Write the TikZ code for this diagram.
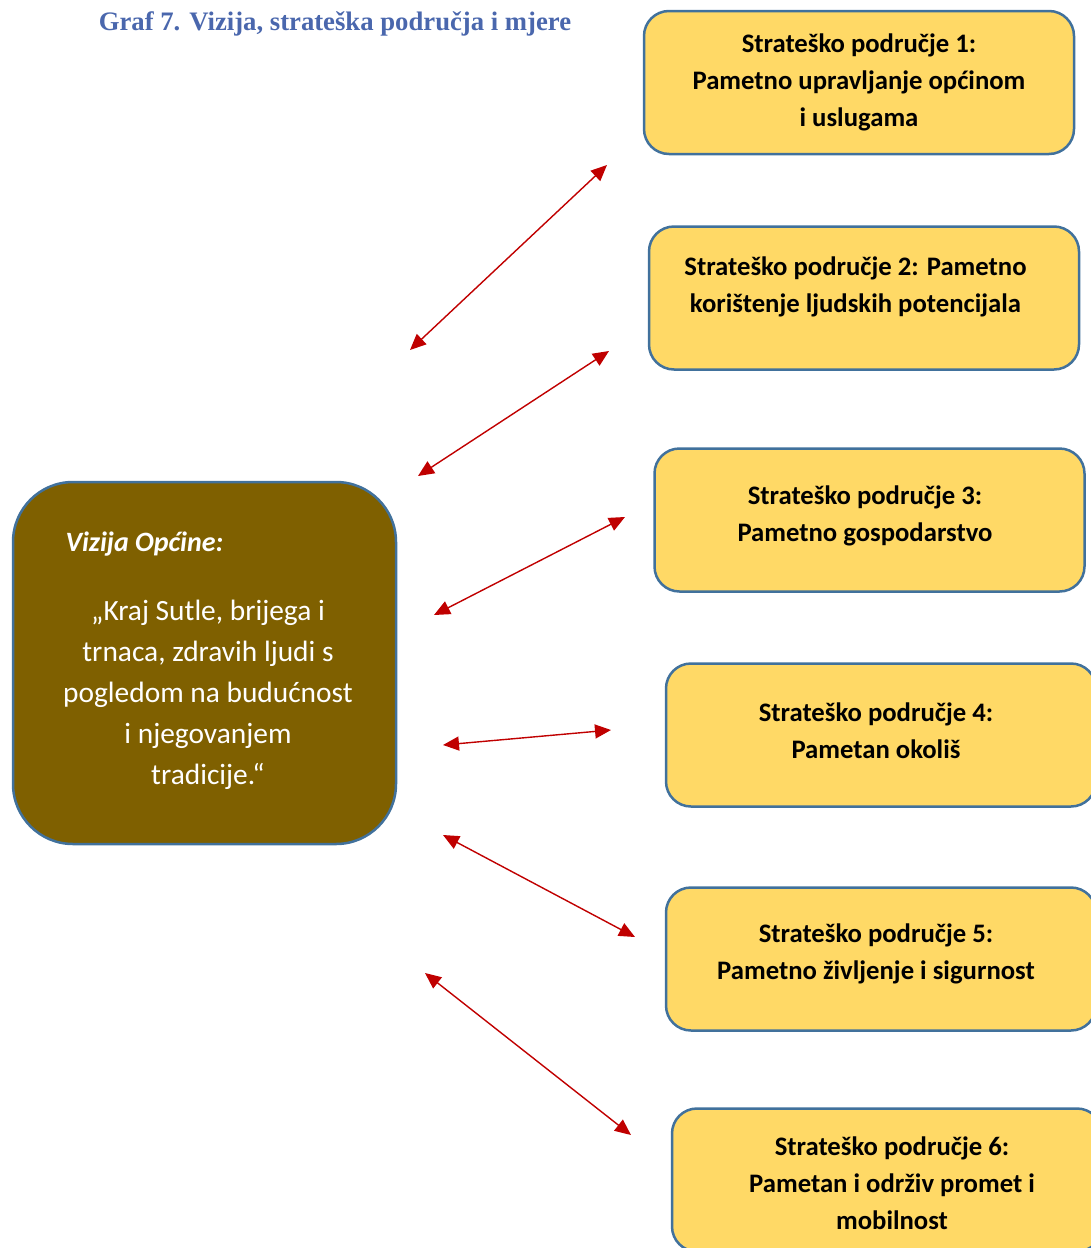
\documentclass[tikz,border=0pt]{standalone}
\usepackage{fontspec}
\setmainfont{Carlito}
\newfontfamily\titlefont{Liberation Serif}
\usetikzlibrary{arrows.meta}
\definecolor{tituloazul}{HTML}{4A67AD}
\definecolor{caixaamarela}{HTML}{FFD966}
\definecolor{bordaazul}{HTML}{41719C}
\definecolor{visaomarrom}{HTML}{7F6000}
\definecolor{setavermelha}{HTML}{C00000}
\tikzset{
  caixa/.style={draw=bordaazul, line width=2.5pt, fill=caixaamarela, rounded corners=25pt,
    minimum width=430pt, minimum height=143pt},
  rotulo/.style={align=center, font=\fontsize{26.7}{37}\selectfont\bfseries},
  seta/.style={setavermelha, line width=1.4pt,
    {Triangle[length=16pt,width=14pt]}-{Triangle[length=16pt,width=14pt]}}
}
\begin{document}
\begin{tikzpicture}[x=1pt, y=-1pt]
        \clip (0,0) rectangle (1091,1248); % Moldura
        \node[font=\titlefont\fontsize{26.7}{30}\selectfont\bfseries, text=tituloazul] (titulo) at (335,24) {Graf 7. Vizija, strateška područja i mjere}; % Titulo
        % Visao
        \node[draw=bordaazul, line width=2.5pt, fill=visaomarrom, rounded corners=60pt,
          minimum width=383pt, minimum height=362pt] (visao) at (204.5,663) {};
        \node[font=\fontsize{28}{41}\selectfont\bfseries\itshape, text=white, anchor=west] (visaotitulo) at (62,544) {Vizija Općine:};
        \node[font=\fontsize{29.4}{41}\selectfont, text=white, align=center] (visaotexto) at (208,695) {„Kraj Sutle, brijega i\\trnaca, zdravih ljudi s\\pogledom na budućnost\\i njegovanjem\\tradicije.“};
        % Caixas das areas
        \node[caixa] (area1) at (859,82.5) {};
        \node[caixa] (area2) at (864,298) {};
        \node[caixa] (area3) at (869.5,520) {};
        \node[caixa] (area4) at (881,735) {};
        \node[caixa] (area5) at (881,959) {};
        \node[caixa] (area6) at (887,1180) {};
        \node[rotulo] (texto1) at (859,82) {Strateško područje 1:\\Pametno upravljanje općinom\\i uslugama};
        \node[rotulo] (texto2) at (855.5,287) {Strateško područje 2: Pametno\\korištenje ljudskih potencijala};
        \node[rotulo] (texto3) at (865,516) {Strateško područje 3:\\Pametno gospodarstvo};
        \node[rotulo] (texto4) at (876,731) {Strateško područje 4:\\Pametan okoliš};
        \node[rotulo] (texto5) at (876,954) {Strateško područje 5:\\Pametno življenje i sigurnost};
        \node[rotulo] (texto6) at (892,1183) {Strateško područje 6:\\Pametan i održiv promet i\\mobilnost};
        % Pontas das setas
        \coordinate (s1a) at (607,165); \coordinate (s1b) at (410,350);
        \coordinate (s2a) at (609,351); \coordinate (s2b) at (418,476);
        \coordinate (s3a) at (625,517); \coordinate (s3b) at (434,615);
        \coordinate (s4a) at (611,730); \coordinate (s4b) at (443,745);
        \coordinate (s5a) at (635,937); \coordinate (s5b) at (443,835);
        \coordinate (s6a) at (631,1135); \coordinate (s6b) at (425,973);
        \draw[seta] (s1b) -- (s1a); % Seta 1
        \draw[seta] (s2b) -- (s2a); % Seta 2
        \draw[seta] (s3b) -- (s3a); % Seta 3
        \draw[seta] (s4b) -- (s4a); % Seta 4
        \draw[seta] (s5b) -- (s5a); % Seta 5
        \draw[seta] (s6b) -- (s6a); % Seta 6
    \end{tikzpicture}
\end{document}
